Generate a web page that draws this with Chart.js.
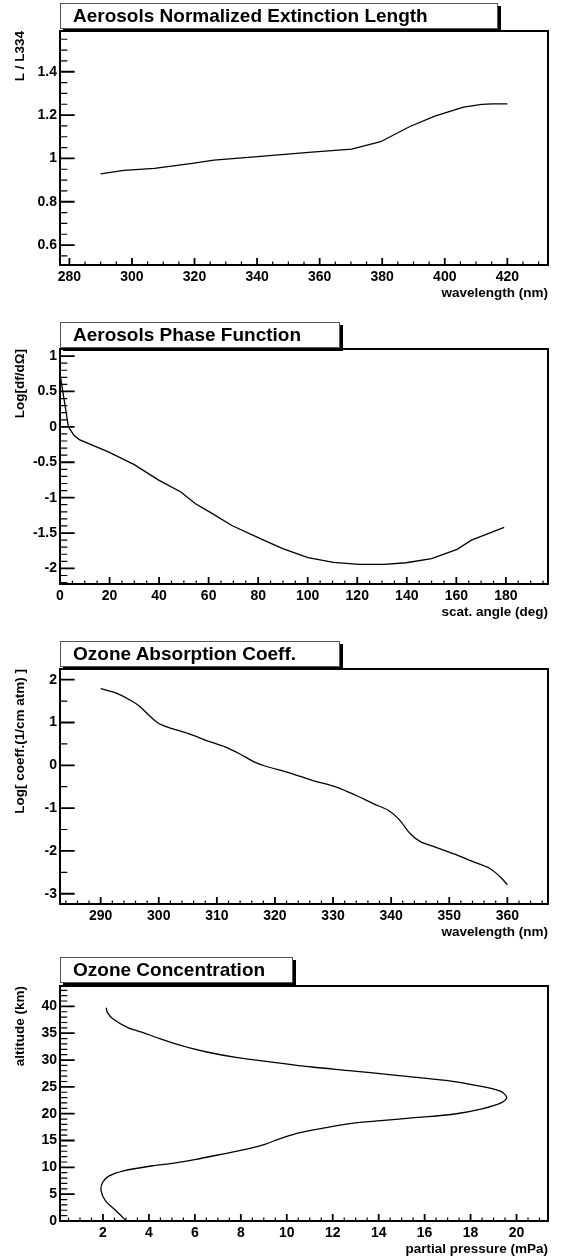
<!DOCTYPE html>
<html>
<head>
<meta charset="utf-8">
<script src="https://cdn.jsdelivr.net/npm/chart.js@4.4.0/dist/chart.umd.min.js"></script>
<style>
body { margin: 0; background: #fff; width: 568px; height: 1257px; overflow: hidden; position: relative; font-family: "Liberation Sans", Arial, sans-serif; }
canvas { position: absolute; left: 0; }
.tbox { position: absolute; left: 60px; height: 26px; box-sizing: border-box; background: #fff; border: 1px solid #555;
        box-shadow: 3px 3px 0 #000; font-weight: bold; font-size: 19px; line-height: 24px; padding-left: 12px; white-space: nowrap; }
</style>
</head>
<body>
<canvas id="c1" width="568" height="300" style="top:1px"></canvas>
<canvas id="c2" width="568" height="301" style="top:319px"></canvas>
<canvas id="c3" width="568" height="301" style="top:639px"></canvas>
<canvas id="c4" width="568" height="301" style="top:956px"></canvas>
<div class="tbox" style="top:3px;width:438px">Aerosols Normalized Extinction Length</div>
<div class="tbox" style="top:322px;width:280px">Aerosols Phase Function</div>
<div class="tbox" style="top:641px;width:280px">Ozone Absorption Coeff.</div>
<div class="tbox" style="top:957px;width:233px">Ozone Concentration</div>
<script>
// aerosols normalized extinction length
const extWavelength = [290, 297.4, 307.2, 319.3, 326.2, 340.1, 357.5, 370.2, 379.5, 388.7, 396.8, 406, 411.8, 415.3, 420];
const extRatio = [0.929, 0.945, 0.954, 0.977, 0.992, 1.008, 1.029, 1.043, 1.077, 1.146, 1.195, 1.237, 1.249, 1.252, 1.252];
const extXTicks = [280, 300, 320, 340, 360, 380, 400, 420];
const extYTicks = [0.6, 0.8, 1, 1.2, 1.4];

// aerosols phase function
const phaseAngle = [0, 3.4, 5.6, 7.8, 19.5, 29.8, 40, 48.8, 54.7, 60.5, 69.4, 81.1, 89.9, 100.1, 110.4, 120.7, 130.9, 139.7, 150, 160.3, 166.1, 179.3];
const phaseLog = [0.75, 0, -0.118, -0.18, -0.354, -0.53, -0.756, -0.92, -1.087, -1.205, -1.394, -1.583, -1.72, -1.848, -1.915, -1.943, -1.943, -1.92, -1.86, -1.73, -1.6, -1.42];
const phaseXTicks = [0, 20, 40, 60, 80, 100, 120, 140, 160, 180];
const phaseYTicks = [-2, -1.5, -1, -0.5, 0, 0.5, 1];

// ozone absorption coefficient
const ozWavelength = [290, 292.6, 295.1, 296.7, 298.3, 300.1, 302, 305.1, 308.9, 311.4, 313.9, 316.4, 318.3, 322.6, 326.4, 330.8, 333.9, 337, 339.5, 341.4, 343.3, 345.1, 347.6, 350.8, 353.9, 357, 358.8, 360];
const ozLogCoeff = [1.79, 1.69, 1.52, 1.38, 1.17, 0.97, 0.87, 0.74, 0.545, 0.43, 0.27, 0.08, -0.016, -0.18, -0.35, -0.52, -0.70, -0.9, -1.05, -1.27, -1.6, -1.79, -1.91, -2.07, -2.24, -2.41, -2.61, -2.79];
const ozXTicks = [290, 300, 310, 320, 330, 340, 350, 360];
const ozYTicks = [-3, -2, -1, 0, 1, 2];

// ozone concentration profile
const concPressure = [3.02, 2.58, 2.11, 1.92, 1.98, 2.27, 2.9, 4.16, 5.1, 6.05, 7.0, 8.26, 9.05, 9.68, 10.63, 11.72, 12.83, 14.09, 15.67, 17.24, 18.5, 19.37, 19.57, 19.3, 18.34, 16.93, 14.88, 12.83, 11.1, 9.37, 7.79, 6.52, 5.42, 4.47, 3.69, 3.06, 2.43, 2.19, 2.14];
const concAltitude = [0, 1.87, 3.74, 5.6, 7.17, 8.4, 9.35, 10.3, 10.8, 11.5, 12.3, 13.4, 14.3, 15.3, 16.5, 17.4, 18.2, 18.7, 19.3, 19.9, 20.9, 22.1, 23.05, 24.2, 25.2, 26.2, 27.1, 28.0, 28.7, 29.6, 30.5, 31.5, 32.7, 34.0, 35.2, 36.1, 37.7, 38.9, 39.75];
const concXTicks = [2, 4, 6, 8, 10, 12, 14, 16, 18, 20];
const concYTicks = [0, 5, 10, 15, 20, 25, 30, 35, 40];

Chart.defaults.font.family = '"Liberation Sans", Arial, sans-serif';
Chart.defaults.font.weight = 'bold';
Chart.defaults.color = '#000';

// frame + inward ticks, ROOT style
const frameTicks = {
    id: 'frameTicks',
    afterDraw(chart, args, opts) {
        const {ctx, chartArea: a, scales: {x, y}} = chart;
        ctx.save();
        ctx.strokeStyle = '#000';
        const xLen = (a.bottom - a.top) * 0.03, yLen = (a.right - a.left) * 0.03;
        const draw = (scale, step, major, len, lw) => {
            ctx.lineWidth = lw;
            ctx.beginPath();
            const vals = [];
            if (major) scale.ticks.forEach(t => vals.push(t.value));
            else {
                for (let v = Math.ceil(scale.min / step) * step; v <= scale.max; v += step) {
                    if (!scale.ticks.some(t => Math.abs(t.value - v) < step / 10)) vals.push(v);
                }
            }
            vals.forEach(v => {
                const p = scale.getPixelForValue(v);
                if (scale.axis === 'x') { ctx.moveTo(p, a.bottom); ctx.lineTo(p, a.bottom - len); }
                else { ctx.moveTo(a.left, p); ctx.lineTo(a.left + len, p); }
            });
            ctx.stroke();
        };
        draw(x, opts.xMinor, false, xLen / 2, 1.2);
        draw(y, opts.yMinor, false, yLen / 2, 1.2);
        draw(x, 0, true, xLen, 1.8);
        draw(y, 0, true, yLen, 1.8);
        ctx.lineWidth = 2;
        ctx.strokeRect(a.left, a.top, a.right - a.left, a.bottom - a.top);
        ctx.restore();
    }
};

const plainNum = v => String(+Number(v).toFixed(3));

function makeChart(id, xs, ys, cfg) {
    return new Chart(document.getElementById(id), {
        type: 'scatter',
        data: {
            datasets: [{
                data: xs.map((v, i) => ({x: v, y: ys[i]})),
                showLine: true,
                borderColor: '#000',
                borderWidth: 1.3,
                pointRadius: 0,
                tension: cfg.tension || 0
            }]
        },
        options: {
            responsive: false,
            animation: false,
            layout: {padding: {top: 30, right: 20, left: 0, bottom: 0}},
            plugins: {legend: {display: false}, tooltip: {enabled: false}, frameTicks: {xMinor: cfg.xMinor, yMinor: cfg.yMinor}},
            scales: {
                x: {
                    type: 'linear', min: cfg.xMin, max: cfg.xMax,
                    afterBuildTicks: s => { s.ticks = cfg.xTicks.map(v => ({value: v})); },
                    afterFit: s => { s.height = 36; },
                    grid: {display: false, drawTicks: false},
                    border: {display: false},
                    ticks: {padding: 4, autoSkip: false, maxRotation: 0, font: {size: 14, weight: 'bold'}, callback: plainNum},
                    title: {display: true, text: cfg.xTitle, align: 'end', font: {size: 13.5, weight: 'bold'}, padding: {top: 0, bottom: 0}}
                },
                y: {
                    type: 'linear', min: cfg.yMin, max: cfg.yMax,
                    afterBuildTicks: s => { s.ticks = cfg.yTicks.map(v => ({value: v})); },
                    afterFit: s => { s.width = 60; },
                    grid: {display: false, drawTicks: false},
                    border: {display: false},
                    ticks: {padding: 3, autoSkip: false, font: {size: 14, weight: 'bold'}, callback: plainNum},
                    title: {display: true, text: cfg.yTitle, align: 'end', font: {size: 13.5, weight: 'bold'}, padding: {top: 12, bottom: 0}}
                }
            }
        },
        plugins: [frameTicks]
    });
}

makeChart('c1', extWavelength, extRatio, {
    xMin: 277, xMax: 433, yMin: 0.508, yMax: 1.588, xTicks: extXTicks, yTicks: extYTicks,
    xMinor: 5, yMinor: 0.05, xTitle: 'wavelength (nm)', yTitle: 'L / L334'
});
makeChart('c2', phaseAngle, phaseLog, {
    xMin: 0, xMax: 197, yMin: -2.22, yMax: 1.10, xTicks: phaseXTicks, yTicks: phaseYTicks,
    xMinor: 5, yMinor: 0.1, xTitle: 'scat. angle (deg)', yTitle: 'Log[df/dΩ]'
});
makeChart('c3', ozWavelength, ozLogCoeff, {
    xMin: 283, xMax: 367, yMin: -3.24, yMax: 2.25, xTicks: ozXTicks, yTicks: ozYTicks,
    xMinor: 2, yMinor: 0.5, xTitle: 'wavelength (nm)', yTitle: 'Log[ coeff.(1/cm atm) ]', tension: 0.3
});
makeChart('c4', concPressure, concAltitude, {
    xMin: 0.13, xMax: 21.37, yMin: 0, yMax: 43.8, xTicks: concXTicks, yTicks: concYTicks,
    xMinor: 0.5, yMinor: 1, xTitle: 'partial pressure (mPa)', yTitle: 'altitude (km)', tension: 0.3
});
</script>
</body>
</html>
